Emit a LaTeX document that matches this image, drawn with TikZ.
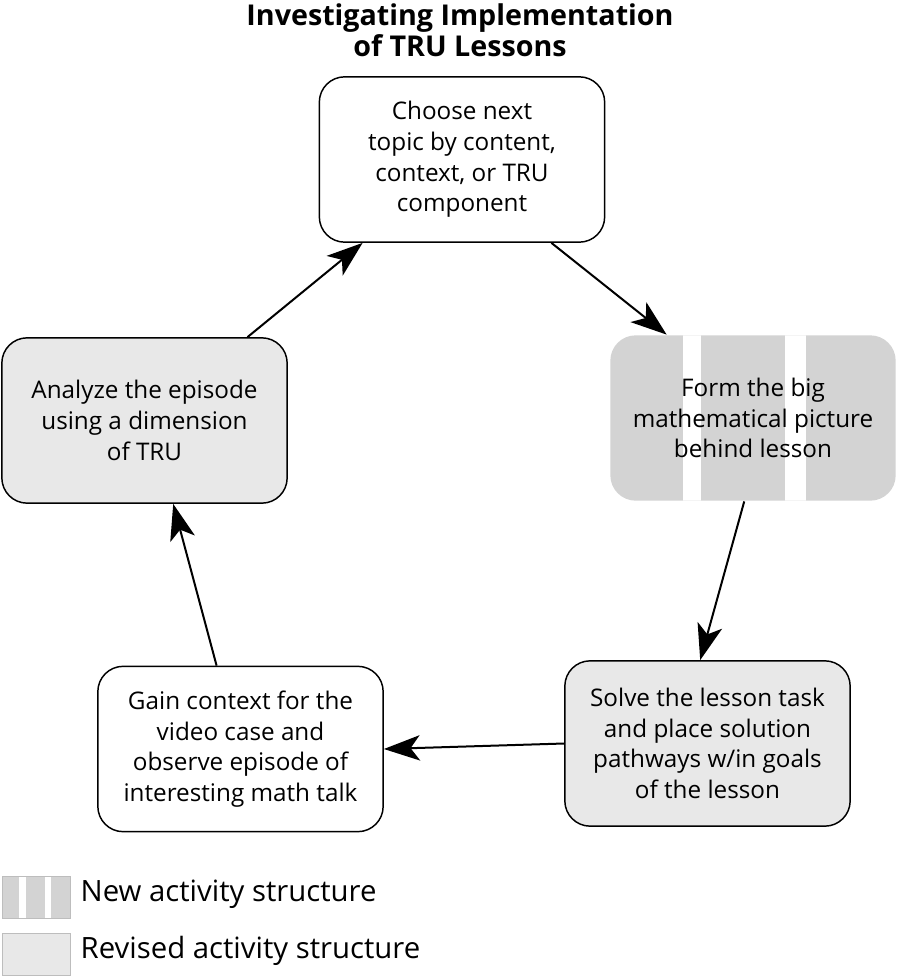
\documentclass[tikz,border=0pt]{standalone}
\usepackage{fontspec}
\setmainfont{Open Sans}
\usetikzlibrary{arrows.meta,calc}
\definecolor{newgray}{HTML}{D3D3D3}
\definecolor{revgray}{HTML}{E8E8E8}
\definecolor{keyline}{HTML}{BDBDBD}
\tikzset{
  stage/.style={draw, line width=1.1pt, rounded corners=19pt,
    minimum width=214pt, minimum height=124pt, align=center,
    font=\fontsize{18.2}{23}\selectfont},
  revised/.style={stage, fill=revgray},
  striped/.style={path picture={
    \foreach \a/\b in {#1}
      \fill[white, sharp corners] ($(path picture bounding box.south west)+(\a,0)$)
        rectangle ($(path picture bounding box.north west)+(\b,0)$);}},
  newact/.style={stage, draw=none, fill=newgray},
  flow/.style={-{Stealth[length=27pt,width=19pt,inset=7pt]}, line width=1.5pt},
  keybox/.style={draw=keyline, line width=0.75pt, minimum width=51pt, minimum height=31.5pt},
  keytext/.style={anchor=west, font=\fontsize{22}{26}\selectfont},
}
\begin{document}
\begin{tikzpicture}[x=0.75pt, y=-0.75pt]
  \useasboundingbox (0,0) rectangle (896,977);

  \node[font=\bfseries\fontsize{21.5}{23.5}\selectfont, align=center] (title) at (460,30)
    {Investigating Implementation\\of TRU Lessons};

  \node[stage] (choose) at (462,159.5)
    {Choose next\\topic by content,\\context, or TRU\\component};
  \node[newact, striped={73/91,175/196}] (form) at (753,418)
    {Form the big\\mathematical picture\\behind lesson};
  \node[revised] (solve) at (707.5,743.5)
    {Solve the lesson task\\and place solution\\pathways w/in goals\\of the lesson};
  \node[stage] (gain) at (240.5,749)
    {Gain context for the\\video case and\\observe episode of\\interesting math talk};
  \node[revised] (analyze) at (144.5,420.5)
    {Analyze the episode\\using a dimension\\of TRU};

  \draw[flow] (choose.-43.5) -- (form.136.7);
  \draw[flow] (form.-96) -- (solve.95);
  \draw[flow] (solve.west) -- (gain.east);
  \draw[flow] (gain.106.7) -- (analyze.-71.6);
  \draw[flow] (analyze.39.8) -- (choose.-140.5);

  % legend
  \node[keybox, fill=newgray, striped={17/24,43/49}] (newkey) at (36,897) {};
  \node[keytext] (newlabel) at (76,894) {New activity structure};
  \node[keybox, fill=revgray] (revkey) at (36,954) {};
  \node[keytext] (revlabel) at (76,951) {Revised activity structure};
\end{tikzpicture}
\end{document}
